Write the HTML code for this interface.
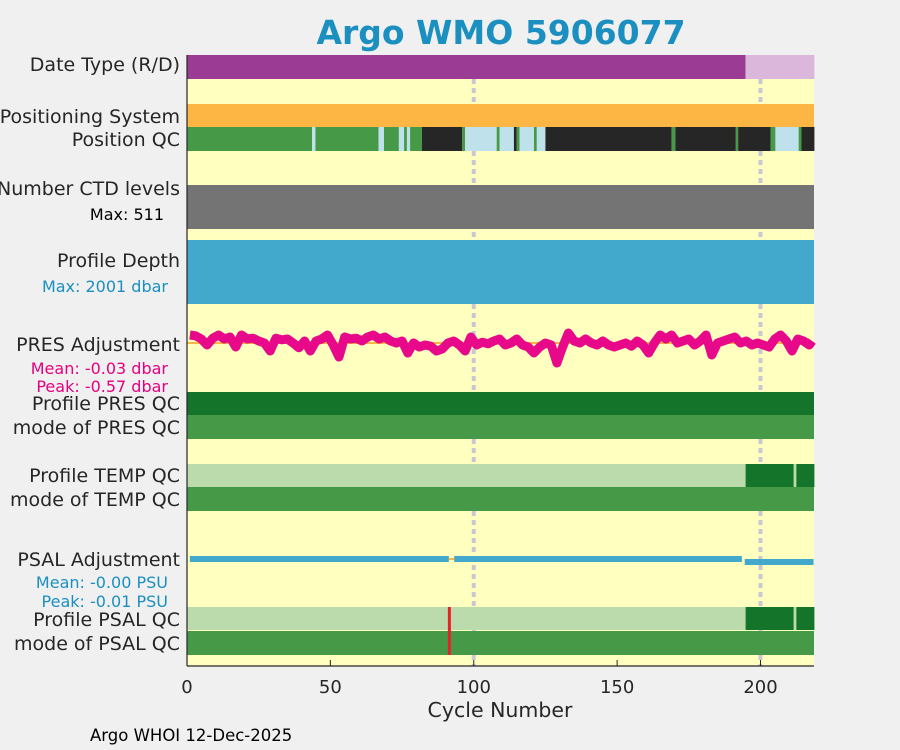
<!DOCTYPE html>
<html><head><meta charset="utf-8"><style>
html,body{margin:0;padding:0;background:#f0f0f0;}
svg{display:block;font-family:"DejaVu Sans","Liberation Sans",sans-serif;}
</style></head><body>
<svg id="chart" width="900" height="750" viewBox="0 0 900 750" xmlns="http://www.w3.org/2000/svg">
<rect x="0" y="0" width="900" height="750" fill="#f0f0f0"/>
<text x="501" y="44" text-anchor="middle" font-size="33" font-weight="bold" fill="#1a8fc0">Argo WMO 5906077</text>
<rect x="187" y="55" width="627" height="611" fill="#ffffc0"/>
<g id="marks"></g>
<g id="grid"></g>
<g id="axis"></g>
<g font-size="19" fill="#262626" text-anchor="end">
<text x="180" y="71">Date Type (R/D)</text>
<text x="180" y="123">Positioning System</text>
<text x="180" y="146">Position QC</text>
<text x="180" y="195">Number CTD levels</text>
<text x="164" y="220" font-size="16" fill="#000">Max: 511</text>
<text x="180" y="267">Profile Depth</text>
<text x="168" y="292" font-size="16" fill="#1a8fc0">Max: 2001 dbar</text>
<text x="180" y="351">PRES Adjustment</text>
<text x="168" y="374" font-size="16" fill="#e6007e">Mean: -0.03 dbar</text>
<text x="168" y="392" font-size="16" fill="#e6007e">Peak: -0.57 dbar</text>
<text x="180" y="410">Profile PRES QC</text>
<text x="180" y="434">mode of PRES QC</text>
<text x="180" y="482">Profile TEMP QC</text>
<text x="180" y="506">mode of TEMP QC</text>
<text x="180" y="566">PSAL Adjustment</text>
<text x="168" y="588" font-size="16" fill="#1a8fc0">Mean: -0.00 PSU</text>
<text x="168" y="607" font-size="16" fill="#1a8fc0">Peak: -0.01 PSU</text>
<text x="180" y="626">Profile PSAL QC</text>
<text x="180" y="650">mode of PSAL QC</text>
</g>
<text x="500" y="717" text-anchor="middle" font-size="20.5" fill="#262626">Cycle Number</text>
<text x="90" y="741" font-size="16.5" fill="#000">Argo WHOI 12-Dec-2025</text>
</svg>
<script>
const xTicks = [0, 50, 100, 150, 200];
const maxCycle = 219;
const dateTypeSegments = [[0, 194.8, 'R'], [194.8, 218.8, 'D']];
const positionQcSegments = [[0,43.6,'g'],[43.6,44.8,'l'],[44.8,66.8,'g'],[66.8,68.7,'l'],[68.7,73.9,'g'],[73.9,75.7,'l'],[75.7,76.7,'g'],[76.7,77.8,'l'],[77.8,81.9,'g'],[81.9,96,'k'],[96,97,'g'],[97,108,'l'],[108,109,'g'],[109,114,'l'],[114,115,'k'],[115,116,'g'],[116,121,'l'],[121,122,'g'],[122,125,'l'],[125,169,'k'],[169,170.3,'g'],[170.3,191.4,'k'],[191.4,192.2,'g'],[192.2,203.5,'k'],[203.5,205.2,'g'],[205.2,213.3,'l'],[213.3,214.3,'g'],[214.3,218.8,'k']];
const profileQcSegments = [[0,194.8,'light'],[194.8,211.6,'dark'],[211.6,212.5,'light'],[212.5,218.8,'dark']];
const psalFlagCycle = [91.5];
const presCycles = [1,3,5,7,9,11,13,15,17,19,21,23,25,27,29,31,33,35,37,39,41,43,45,47,49,51,53,55,57,59,61,63,65,67,69,71,73,75,77,79,81,83,85,87,89,91,93,95,97,99,101,103,105,107,109,111,113,115,117,119,121,123,125,127,129,131,133,135,137,139,141,143,145,147,149,151,153,155,157,159,161,163,165,167,169,171,173,175,177,179,181,183,185,187,189,191,193,195,197,199,201,203,205,207,209,211,213,215,217,218];
const presValues = [0.2,0.18,0.1,-0.05,0.12,0.2,0.1,0.15,-0.1,0.2,0.1,0.12,0.05,0.0,-0.2,0.12,0.08,0.1,0.0,-0.12,0.05,-0.2,0.05,0.1,0.2,-0.05,-0.35,0.15,0.1,0.12,0.05,0.15,0.2,0.1,0.15,0.05,0.0,0.05,-0.25,0.0,-0.1,-0.05,-0.08,-0.2,-0.15,0.0,0.05,-0.05,-0.2,0.15,-0.05,0.02,-0.02,0.05,0.1,-0.05,0.0,0.1,-0.05,-0.1,-0.25,-0.1,0.0,-0.05,-0.5,-0.1,0.25,0.05,0.0,0.1,0.0,-0.05,0.05,-0.05,-0.1,-0.05,0.0,-0.08,0.05,-0.05,-0.25,0.0,0.2,0.1,0.2,0.0,0.05,0.1,-0.05,0.05,0.2,-0.3,0.0,0.05,0.1,0.15,0.0,0.05,-0.05,0.0,-0.05,-0.1,0.1,0.2,0.05,-0.2,0.1,0.05,-0.05,0.05];
const psalSegments = [[1,91.3,0.0],[93.2,193.5,0.0],[194.5,218.5,-0.01]];

const NS='http://www.w3.org/2000/svg';
const X0=187, X1=814;
function xs(c){return X0+(c)*(573.5/200);}
function presY(v){return 343-v*40;}
function psalY(v){return 559-v*300;}
const marks=document.getElementById('marks');
function mk(tag,attrs,parent){const e=document.createElementNS(NS,tag);for(const k in attrs)e.setAttribute(k,attrs[k]);(parent||marks).appendChild(e);return e;}

const dtCol={R:'#9b3b93',D:'#dbb8db'};
dateTypeSegments.forEach(s=>{const r=mk('rect',{x:xs(s[0]),y:55,width:xs(s[1])-xs(s[0]),height:24,fill:dtCol[s[2]]});

});
let r=mk('rect',{x:X0,y:104,width:X1-X0,height:23,fill:'#fdb643'});


const pqCol={g:'#469a47',l:'#bfe1ec',k:'#262626'};
positionQcSegments.forEach(s=>{const e=mk('rect',{x:xs(s[0]),y:127,width:xs(s[1])-xs(s[0]),height:24,fill:pqCol[s[2]]});

});
r=mk('rect',{x:X0,y:185,width:X1-X0,height:44,fill:'#747474'});


r=mk('rect',{x:X0,y:240,width:X1-X0,height:64,fill:'#42a8cc'});


r=mk('line',{x1:X0,x2:X1,y1:presY(0),y2:presY(0),stroke:'#fdb643','stroke-width':2});


const pts=presCycles.map((c,i)=>xs(c)+','+presY(presValues[i])).join(' ');
r=mk('polyline',{points:pts,fill:'none',stroke:'#e8088a','stroke-width':9,'stroke-linejoin':'round'});


r=mk('rect',{x:X0,y:392,width:X1-X0,height:23,fill:'#147429'});


const modeRows=[[415,'mode-pres-qc-bar'],[487,'mode-temp-qc-bar'],[631,'mode-psal-qc-bar']];
modeRows.forEach(m=>{const e=mk('rect',{x:X0,y:m[0],width:X1-X0,height:24,fill:'#469a47'});

});
const pqc={light:'#bcdbac',dark:'#147429'};
[464,607].forEach(y=>{profileQcSegments.forEach(s=>{const e=mk('rect',{x:xs(s[0]),y:y,width:xs(s[1])-xs(s[0]),height:23,fill:pqc[s[2]]});

});});
psalFlagCycle.forEach(c=>{const e=mk('rect',{x:xs(c)-1.5,y:607,width:3,height:48,fill:'#e8202a'});

});
r=mk('line',{x1:xs(91.3),x2:xs(93.2),y1:psalY(0),y2:psalY(0),stroke:'#fdb643','stroke-width':2});


psalSegments.forEach(s=>{const e=mk('line',{x1:xs(s[0]),x2:xs(s[1]),y1:psalY(s[2]),y2:psalY(s[2]),stroke:'#42a8cc','stroke-width':6});

});

const grid=document.getElementById('grid');
[100,200].forEach(c=>{const e=mk('line',{x1:xs(c),x2:xs(c),y1:79,y2:666,stroke:'#c8c8d0','stroke-width':4,'stroke-dasharray':'5,4'},grid);

});
const axis=document.getElementById('axis');
mk('line',{x1:X0,x2:X1,y1:666,y2:666,stroke:'#262626','stroke-width':1.2},axis);
mk('line',{x1:X0,x2:X0,y1:55,y2:666,stroke:'#262626','stroke-width':1.2},axis);
xTicks.forEach(t=>{mk('line',{x1:xs(t),x2:xs(t),y1:666,y2:660,stroke:'#262626'},axis);
const tx=mk('text',{x:xs(t),y:693,'text-anchor':'middle','font-size':18,fill:'#262626'},axis);
tx.textContent=t;

});
const svg=document.getElementById('chart');
svg.insertBefore(grid,marks);
</script>
</body></html>
